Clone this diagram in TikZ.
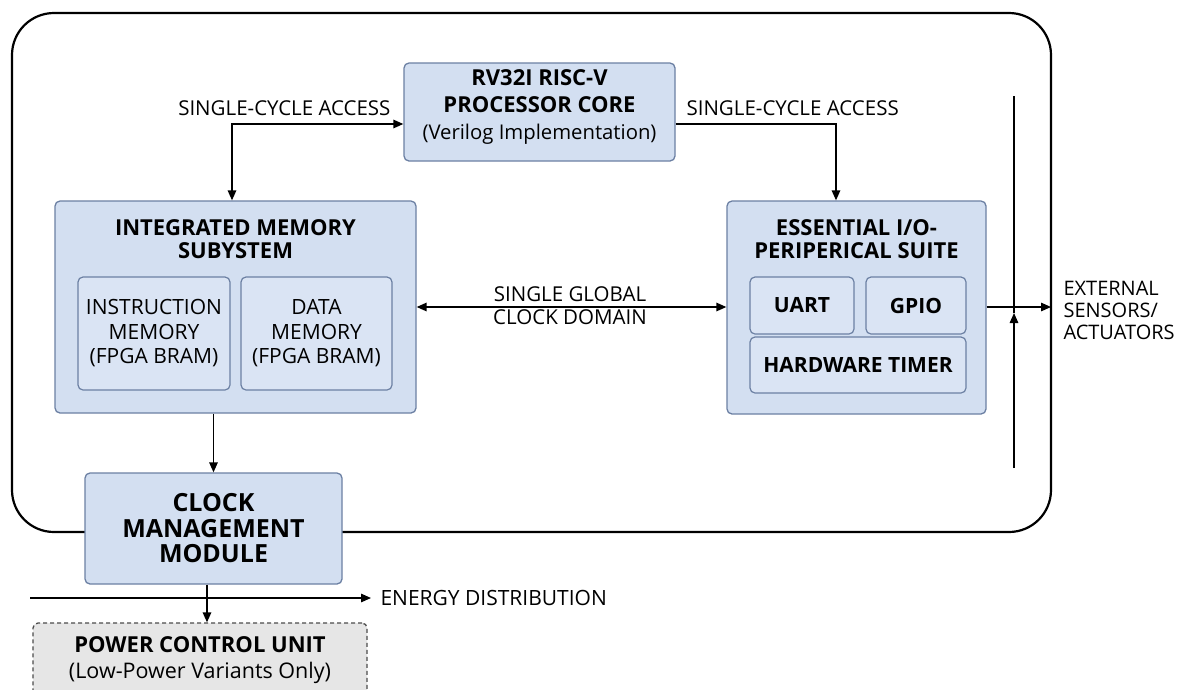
\documentclass[tikz,border=0pt]{standalone}
\usepackage{fontspec}
\setmainfont{Open Sans}
\usetikzlibrary{arrows.meta,positioning}

\definecolor{blkfill}{RGB}{211,223,241}
\definecolor{subfill}{RGB}{218,228,244}
\definecolor{blkline}{RGB}{108,128,163}
\definecolor{pcufill}{RGB}{230,230,230}

\newcommand{\bigbf}{\bfseries\fontsize{22}{23}\selectfont}

\begin{document}
\begin{tikzpicture}[x=1pt,y=-1pt,>={Triangle[length=10pt,width=8.5pt]},
    blk/.style={draw=blkline,fill=blkfill,line width=1.3pt,rounded corners=5pt,
      align=center,inner sep=0pt,font=\fontsize{21}{24.5}\selectfont},
    subblk/.style={blk,fill=subfill,line width=1.2pt},
    ttl/.style={align=center,font=\fontsize{22}{23.5}\selectfont\bfseries},
    lbl/.style={align=center,font=\fontsize{20.5}{23}\selectfont},
    wire/.style={line width=1.4pt}]
    \useasboundingbox (0,0) rectangle (1179,689);
    \clip (0,0) rectangle (1179,689);
    \fill[white] (0,0) rectangle (1179,689);
    % outer system frame
    \draw[line width=2.2pt,rounded corners=42pt] (12,13) rectangle (1051,532);
    % processor
    \node[blk,minimum width=271pt,minimum height=98pt] (proc) at (539.5,112) {};
    \node[align=center,font=\fontsize{20.3}{27}\selectfont] (proctxt) at (539.5,107)
        {\bigbf RV32I RISC-V\\\bigbf PROCESSOR CORE\\(Verilog Implementation)};
    % memory subsystem
    \node[blk,minimum width=361pt,minimum height=212pt] (mem) at (235.5,307) {};
    \node[ttl] (memttl) at (235.5,239) {INTEGRATED MEMORY\\SUBYSTEM};
    \node[subblk,minimum width=152pt,minimum height=113pt] (imem) at (154,333.5)
        {INSTRUCTION\\MEMORY\\(FPGA BRAM)};
    \node[subblk,minimum width=151pt,minimum height=113pt] (dmem) at (316.5,333.5)
        {DATA\\MEMORY\\(FPGA BRAM)};
    % peripherals
    \node[blk,minimum width=259pt,minimum height=213pt] (io) at (856.5,307.5) {};
    \node[ttl] (iottl) at (856.5,239) {ESSENTIAL I/O-\\PERIPERICAL SUITE};
    \node[subblk,minimum width=104pt,minimum height=57pt] (uart) at (802,305.5) {\bfseries UART};
    \node[subblk,minimum width=100pt,minimum height=57pt] (gpio) at (916,305.5) {\bfseries GPIO};
    \node[subblk,minimum width=216pt,minimum height=56pt] (tmr) at (858,365) {\bfseries HARDWARE TIMER};
    % clock and power
    \node[blk,minimum width=257pt,minimum height=111pt,font=\fontsize{25}{25.5}\selectfont\bfseries]
        (clk) at (213.5,528.5) {CLOCK\\MANAGEMENT\\MODULE};
    \node[draw=black!70,fill=pcufill,dash pattern=on 4pt off 3pt,line width=1.3pt,rounded corners=5pt,
        minimum width=334pt,minimum height=76pt,inner sep=0pt] (pcu) at (200,661) {};
    \node[align=center,font=\fontsize{21.5}{26}\selectfont] (pcuttl) at (200,660)
        {\bigbf POWER CONTROL UNIT\\(Low-Power Variants Only)};
    % connectors
    \draw[wire,<->] ([yshift=-12pt]proc.west) -| ([xshift=-3.5pt]mem.north);
    \node[lbl,anchor=south east] (accl) at (394,119) {SINGLE-CYCLE ACCESS};
    \draw[wire,->] ([yshift=-12pt]proc.east) -| ([xshift=-20.5pt]io.north);
    \node[lbl,anchor=south west] (accr) at (683,119) {SINGLE-CYCLE ACCESS};
    \draw[wire,<->] (mem.east) -- (mem.east -| io.west);
    \node[lbl] (gclk) at (570,306) {SINGLE GLOBAL\\CLOCK DOMAIN};
    \coordinate (ext) at (1051,307);
    \draw[wire,->] (io.east |- ext) -- (ext);
    \node[lbl,anchor=west,align=left,font=\fontsize{20}{22}\selectfont] (extlbl) at (1060,310)
        {EXTERNAL\\SENSORS/\\ACTUATORS};
    \coordinate (bustop) at (1014,96);
    \coordinate (busmid) at (1014,313);
    \coordinate (busbot) at (1014,468);
    \draw[wire,->] (busbot) -- (busmid);
    \draw[wire] (busmid) -- (bustop);
    \draw[wire,->] (mem.south -| clk.north) -- (clk.north);
    \coordinate (enstart) at (30,598);
    \coordinate (enend) at (371,598);
    \draw[wire,->] (enstart) -- (enend);
    \node[lbl,anchor=west,font=\fontsize{21}{23}\selectfont] (enlbl) at (377,598) {ENERGY DISTRIBUTION};
    \draw[wire,->] ([xshift=-6.5pt]clk.south) -- ([xshift=-6.5pt]clk.south |- pcu.north);
\end{tikzpicture}
\end{document}
